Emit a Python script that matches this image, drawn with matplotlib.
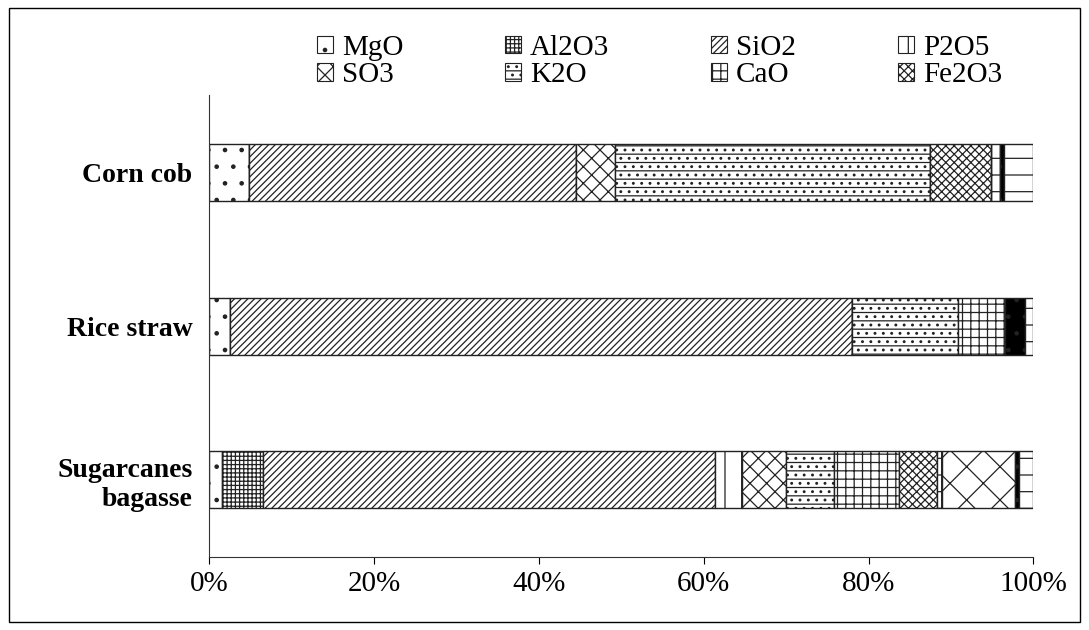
import matplotlib.pyplot as plt
from matplotlib.patches import Patch, Rectangle
import numpy as np

plt.rcParams['font.family'] = ['Liberation Serif', 'DejaVu Serif']
plt.rcParams['hatch.linewidth'] = 0.9

# Categories, bottom to top
categories = ["Sugarcanes\nbagasse", "Rice straw", "Corn cob"]

# Oxide shares (%) per category, same order as categories
components = ["MgO", "Al2O3", "SiO2", "P2O5", "SO3", "K2O", "CaO", "Fe2O3",
              "TiO2", "Other", "Na2O", "LOI"]
MgO = [1.6, 2.5, 4.9]
Al2O3 = [5.0, 0.0, 0.0]
SiO2 = [54.8, 75.5, 39.6]
P2O5 = [3.3, 0.0, 0.0]
SO3 = [5.3, 0.0, 4.7]
K2O = [5.8, 12.9, 38.3]
CaO = [7.9, 5.6, 0.0]
Fe2O3 = [4.6, 0.0, 7.3]
TiO2 = [0.6, 0.0, 1.1]
Other = [8.9, 0.0, 0.0]
Na2O = [0.4, 2.5, 0.5]
LOI = [1.8, 1.0, 3.6]
values = [MgO, Al2O3, SiO2, P2O5, SO3, K2O, CaO, Fe2O3, TiO2, Other, Na2O, LOI]

# Legend shows only the first eight series (row-wise: 4 per row)
n_legend = 8

hatches = ['.', '++++', '/////', '|', 'xx', '--..', '++', 'xxxx',
           '|-', 'x', '.', '-']
faces = ['white', 'white', 'white', 'white', 'white', 'white', 'white', 'white',
         'white', 'white', 'black', 'white']

fig = plt.figure(figsize=(10.89, 6.30), dpi=100)
ax = fig.add_axes([0.192, 0.116, 0.757, 0.733])

y = np.arange(len(categories))
left = np.zeros(len(categories))
for name, vals, h, fc in zip(components, values, hatches, faces):
    vals = np.array(vals)
    ax.barh(y, vals, left=left, height=0.37, color=fc, hatch=h,
            edgecolor='#222222', linewidth=1.0, label=name)
    left += vals

ax.set_xlim(0, 100)
ax.set_ylim(-0.5, 2.5)
ax.set_xticks(np.arange(0, 101, 20))
ax.set_xticklabels([f"{v}%" for v in range(0, 101, 20)], fontsize=21)
ax.set_yticks(y)
ax.set_yticklabels(categories, fontsize=20, fontweight='bold')
ax.tick_params(axis='y', length=0, pad=12)
ax.tick_params(axis='x', length=5, direction='out', pad=5)
ax.spines['top'].set_visible(False)
ax.spines['right'].set_visible(False)
ax.spines['left'].set_color('#333333')
ax.spines['bottom'].set_color('#333333')

handles = [Patch(facecolor=faces[i], edgecolor='#222222', hatch=hatches[i],
                 linewidth=0.8) for i in range(n_legend)]
labels = components[:n_legend]
# reorder so that the column-major legend reads row by row
order = [0, 4, 1, 5, 2, 6, 3, 7]
fig.legend([handles[i] for i in order], [labels[i] for i in order],
           loc='upper left', ncol=4, bbox_to_anchor=(0.291, 0.945),
           frameon=False, fontsize=21, borderpad=0, borderaxespad=0,
           handlelength=0.55, handleheight=0.55, handletextpad=0.3,
           columnspacing=3.5, labelspacing=0.05)

fig.patches.append(Rectangle((0.008, 0.013), 0.984, 0.974,
                             transform=fig.transFigure, fill=False,
                             edgecolor='black', linewidth=1.0))

fig.savefig("out.png", dpi=100)
